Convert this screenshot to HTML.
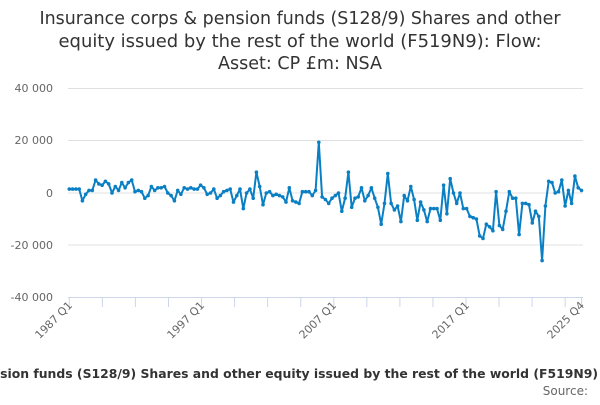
<!DOCTYPE html>
<html><head><meta charset="utf-8"><style>
body{margin:0;width:600px;height:400px;overflow:hidden;background:#fff;font-family:"Liberation Sans","DejaVu Sans",sans-serif}
</style></head><body>
<svg id="s" width="600" height="400" xmlns="http://www.w3.org/2000/svg" font-family="DejaVu Sans, Liberation Sans, sans-serif">
<g font-size="17.4" fill="#333" text-anchor="middle">
<text x="300" y="24" textLength="521" lengthAdjust="spacingAndGlyphs">Insurance corps &amp; pension funds (S128/9) Shares and other</text>
<text x="300" y="47" textLength="483" lengthAdjust="spacingAndGlyphs">equity issued by the rest of the world (F519N9): Flow:</text>
<text x="300" y="69" textLength="164" lengthAdjust="spacingAndGlyphs">Asset: CP £m: NSA</text>
</g>
<g stroke="#e0e0e0" stroke-width="1">
<line x1="68" x2="583" y1="88.5" y2="88.5"/><line x1="68" x2="583" y1="140.5" y2="140.5"/>
<line x1="68" x2="583" y1="193" y2="193"/><line x1="68" x2="583" y1="245" y2="245"/>
</g>
<line x1="68" x2="583" y1="297.5" y2="297.5" stroke="#ccd6eb"/>
<g font-size="11" fill="#666" text-anchor="end">
<text x="53" y="92">40 000</text><text x="53" y="144">20 000</text><text x="53" y="197">0</text>
<text x="53" y="249">-20 000</text><text x="53" y="301">-40 000</text>
</g>
<g id="ticks" stroke="#ccd6eb"></g>
<g font-size="11" fill="#666" text-anchor="end">
<text transform="translate(73,306) rotate(-45)">1987 Q1</text>
<text transform="translate(205,306) rotate(-45)">1997 Q1</text>
<text transform="translate(337,306) rotate(-45)">2007 Q1</text>
<text transform="translate(470,306) rotate(-45)">2017 Q1</text>
<text transform="translate(585,306) rotate(-45)">2025 Q4</text>
</g>
<polyline id="pl" fill="none" stroke="#0a7fc4" stroke-width="2" stroke-linejoin="round"/>
<g id="dots" fill="#0a7fc4"></g>
<text x="598" y="378" font-size="12.4" font-weight="bold" fill="#333" text-anchor="end">Insurance corps &amp; pension funds (S128/9) Shares and other equity issued by the rest of the world (F519N9)</text>
<text x="588" y="395" font-size="12" fill="#666" text-anchor="end">Source:</text>
</svg>
<script>
var v=[1.5,1.5,1.5,1.5,-3,-0.5,1,1,5,3.5,3,4.5,3.5,0,2.5,1,4,2,4,5,0.5,1,0.5,-2,-1,2.5,1,2,2,2.5,0,-1,-3,1,-0.5,2,1.5,2,1.5,1.5,
3,2,-0.5,0,1.5,-2,-1,0.5,1,1.5,-3.5,-1,1.5,-6,0,1.5,-2,8,2.5,-4.5,0,0.5,-1,-0.5,-1,-1.5,-3.5,2,-3,-3.5,-4,0.5,0.5,0.5,-1,1,19.5,-1.5,-2.5,-4,
-2,-1,0,-7,-2,8,-5.5,-2,-1.5,2,-3,-1,2,-2,-5.5,-12,-4,7.5,-4,-6.5,-5,-11,-1,-3,2.5,-2.5,-10.5,-3.5,-6.5,-11,-6,-6,-6,-10.5,3,-8,5.5,0,-4,0,
-6,-6,-9,-9.5,-10,-16.5,-17.5,-12,-13,-14.5,0.5,-12.5,-14,-7,0.5,-2,-2,-16,-4,-4,-4.5,-11.5,-7,-9,-26,-5,4.5,4,0,0.5,5,-5,1,-4,6.5,2,1];
var n=v.length,x0=69.3,x1=581.5,st=(x1-x0)/(n-1),p=[],d="";
for(var i=0;i<n;i++){var x=x0+i*st,y=193-v[i]*2.6;p.push(x.toFixed(1)+","+y.toFixed(1));d+='<circle cx="'+x.toFixed(1)+'" cy="'+y.toFixed(1)+'" r="1.8"/>';}
document.getElementById("pl").setAttribute("points",p.join(" "));
document.getElementById("dots").innerHTML=d;
var t="",qs=(466-69.3)/120;for(var q=0;q<=150;q+=10){var x=69.3+q*qs;t+='<line x1="'+x+'" x2="'+x+'" y1="297" y2="307"/>';}
t+='<line x1="581.5" x2="581.5" y1="297" y2="307"/>';
document.getElementById("ticks").innerHTML=t;
</script>
</body></html>
